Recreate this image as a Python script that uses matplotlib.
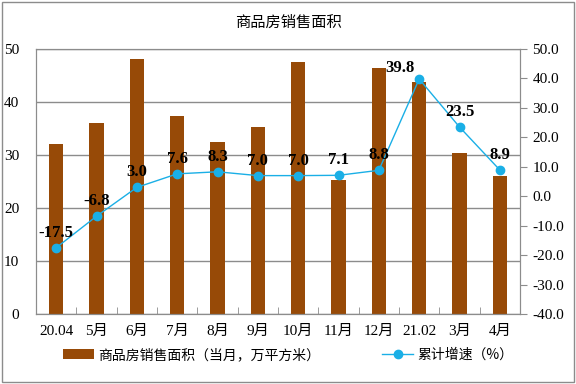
import matplotlib.pyplot as plt
from matplotlib.patches import Rectangle

months = ["20.04", "5月", "6月", "7月", "8月", "9月", "10月", "11月", "12月", "21.02", "3月", "4月"]
area = [32.1, 36.0, 48.2, 37.4, 32.5, 35.3, 47.5, 25.3, 46.5, 43.8, 30.4, 26.0]
growth = [-17.5, -6.8, 3.0, 7.6, 8.3, 7.0, 7.0, 7.1, 8.8, 39.8, 23.5, 8.9]

bar_color = "#974A07"
line_color = "#1AAFE6"
serif = ["Liberation Serif", "Noto Sans CJK SC"]
cjk = ["Noto Sans CJK SC", "DejaVu Sans"]

plt.rcParams["font.family"] = serif

fig = plt.figure(figsize=(5.76, 3.84), dpi=100)
ax = fig.add_axes([0.0625, 0.1823, 0.8403, 0.6901])
ax2 = ax.twinx()

x = list(range(len(months)))
ax.bar(x, area, width=0.36, color=bar_color, label="商品房销售面积（当月，万平方米）", zorder=2)
ax.set_ylim(0, 50)
ax.set_yticks(range(0, 51, 10))
ax.set_xlim(-0.5, len(months) - 0.5)
ax.yaxis.grid(True, color="#8c8c8c", linewidth=1)
ax.set_axisbelow(True)

ax.set_xticks(x)
ax.set_xticklabels(months, fontsize=11)
ax.tick_params(axis="x", length=0, pad=8)
ax.set_xticks([i + 0.5 for i in x[:-1]], minor=True)
ax.tick_params(axis="x", which="minor", direction="in", length=5, color="#8c8c8c")
ax.tick_params(axis="y", length=0, labelsize=11, pad=12)

ax2.plot(x, growth, color=line_color, linewidth=1, marker="o", markersize=6,
         label="累计增速（%）", zorder=3)
ax2.set_ylim(-40, 50)
ax2.set_yticks(range(-40, 51, 10))
ax2.set_yticklabels([f"{v:.1f}" for v in range(-40, 51, 10)])
ax2.tick_params(axis="y", direction="out", length=5, color="#8c8c8c", labelsize=11, pad=4)

for i, v in enumerate(growth):
    if i == 9:
        ax2.annotate(f"{v:.1f}", (i, v), xytext=(-3, 2), textcoords="offset points",
                     ha="right", va="bottom", fontsize=12, fontweight="bold")
    else:
        ax2.annotate(f"{v:.1f}", (i, v), xytext=(0, 5), textcoords="offset points",
                     ha="center", va="bottom", fontsize=12, fontweight="bold")

for a in (ax, ax2):
    for s in a.spines.values():
        s.set_color("#8c8c8c")

fig.suptitle("商品房销售面积", fontsize=11, family=cjk, y=0.965)

h1, l1 = ax.get_legend_handles_labels()
h2, l2 = ax2.get_legend_handles_labels()
leg = fig.legend(h1 + h2, l1 + l2, loc="center", bbox_to_anchor=(0.5, 0.076), ncol=2,
                 frameon=False, prop={"family": cjk, "size": 10}, columnspacing=4.5,
                 handlelength=2.2, handletextpad=0.3)

fig.patches.append(Rectangle((0.003, 0.005), 0.994, 0.99, transform=fig.transFigure,
                             fill=False, edgecolor="#8c8c8c", linewidth=1))

fig.savefig("out.png", dpi=100)
